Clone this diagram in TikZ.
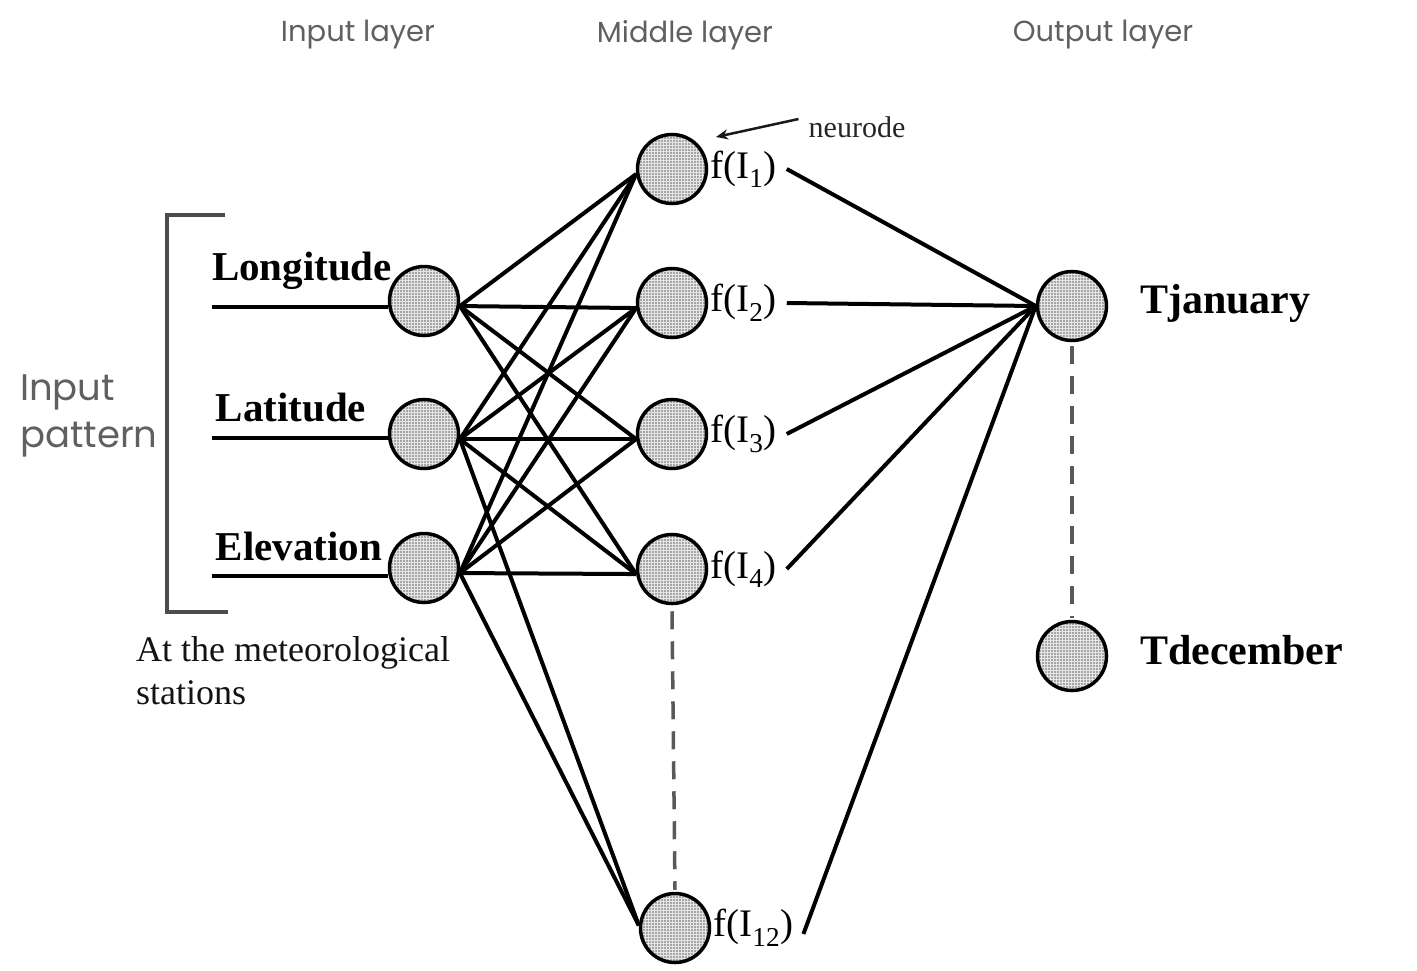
\documentclass[tikz,border=0pt]{standalone}
\usepackage{fontspec}
\setmainfont{Liberation Serif}
\newfontfamily\gothic{Poppins}
\usetikzlibrary{patterns,arrows.meta}
\begin{document}
\begin{tikzpicture}[x=1pt,y=-1pt,
  neuron/.style={circle, draw=black, line width=3.5pt, minimum size=69pt, inner sep=0pt,
    preaction={fill=gray!70}, pattern=grid, pattern color=white!80!gray},
  conn/.style={line width=4pt, black},
  dashline/.style={line width=3.5pt, gray!70!black, dash pattern=on 18pt off 12pt},
  inlabel/.style={font=\fontsize{41}{44}\selectfont\bfseries, inner sep=0pt},
  outlabel/.style={font=\fontsize{42}{44}\selectfont\bfseries, inner sep=0pt, anchor=west},
  flabel/.style={font=\fontsize{39}{40}\selectfont, inner sep=0pt, anchor=west},
  title/.style={font=\gothic\fontsize{29}{32}\selectfont, text=gray!75!black},
  bracketline/.style={line width=3.5pt, gray!60!black}]
\useasboundingbox (0,0) rectangle (1417,970);

% titles
\node[title] (tin) at (358,35) {Input layer};
\node[title] (tmid) at (685,35) {Middle layer};
\node[title] (tout) at (1103,35) {Output layer};

% input nodes
\node[neuron] (lon) at (424,301) {};
\node[neuron] (lat) at (424,434) {};
\node[neuron] (ele) at (424,568) {};

% middle nodes
\node[neuron] (m1) at (672,169) {};
\node[neuron] (m2) at (672,303) {};
\node[neuron] (m3) at (672,434) {};
\node[neuron] (m4) at (672,569) {};
\node[neuron] (m12) at (675,928) {};

% output nodes
\node[neuron] (tjan) at (1072,306) {};
\node[neuron] (tdec) at (1072,656) {};

% input labels and lines
\node[inlabel] (lonlab) at (302,271) {Longitude};
\node[inlabel] (latlab) at (291,408) {Latitude};
\node[inlabel] (elelab) at (299,546) {Elevation};
\coordinate (lonin) at (212,307);
\coordinate (latin) at (212,438);
\coordinate (elein) at (212,576);
\draw[conn] (lonin) -- (lonin -| lon.west);
\draw[conn] (latin) -- (latin -| lat.west);
\draw[conn] (elein) -- (elein -| ele.west);

% bracket and input pattern
\draw[bracketline] (225,215) -- (167,215) -- (167,612) -- (228,612);
\node[anchor=west, align=left, inner sep=0pt, font=\gothic\fontsize{37}{47}\selectfont, text=gray!75!black] (pat) at (20,416) {Input\\pattern};
\node[anchor=west, align=left, inner sep=0pt, font=\fontsize{36}{43}\selectfont, text=gray!15!black] (stat) at (136,671) {At the meteorological\\stations};

% input -> middle connections
\foreach \i in {lon,lat,ele}{
  \foreach \j in {m1,m2,m3,m4}{
    \draw[conn] (\i.-8) -- (\j.188);
  }
}
\draw[conn] (lat.-8) -- (m12.176);
\draw[conn] (ele.-8) -- (m12.176);

% f labels
\node[flabel] (f1) at ([xshift=2pt]m1.east) {f(I\textsubscript{1})};
\node[flabel] (f2) at ([xshift=2pt]m2.east) {f(I\textsubscript{2})};
\node[flabel] (f3) at ([xshift=2pt]m3.east) {f(I\textsubscript{3})};
\node[flabel] (f4) at ([xshift=2pt]m4.east) {f(I\textsubscript{4})};
\node[flabel] (f12) at ([xshift=2pt]m12.east) {f(I\textsubscript{12})};

% middle -> output
\draw[conn] ([xshift=10pt]f1.east) -- (tjan.west);
\draw[conn] ([xshift=10pt]f2.east) -- (tjan.west);
\draw[conn] ([xshift=10pt]f3.east) -- (tjan.west);
\draw[conn] ([xshift=10pt]f4.east) -- (tjan.west);
\draw[conn] ([xshift=10pt,yshift=-6pt]f12.east) -- (tjan.west);

% dashed
\draw[dashline] ([yshift=-6pt]m4.south) -- ([yshift=2pt]m12.north);
\draw[dashline] ([yshift=-4pt]tjan.south) -- ([yshift=2pt]tdec.north);

% output labels
\node[outlabel] (janlab) at (1140,303) {Tjanuary};
\node[outlabel] (declab) at (1140,650) {Tdecember};

% neurode
\node[font=\fontsize{30}{32}\selectfont, inner sep=0pt, text=gray!30!black] (neu) at (857,127) {neurode};
\coordinate (neutip) at (716,137);
\draw[line width=2.5pt, gray!20!black, -{Stealth[length=12pt,width=10pt]}] ([xshift=-10pt,yshift=8pt]neu.west) -- (neutip);
\end{tikzpicture}
\end{document}
